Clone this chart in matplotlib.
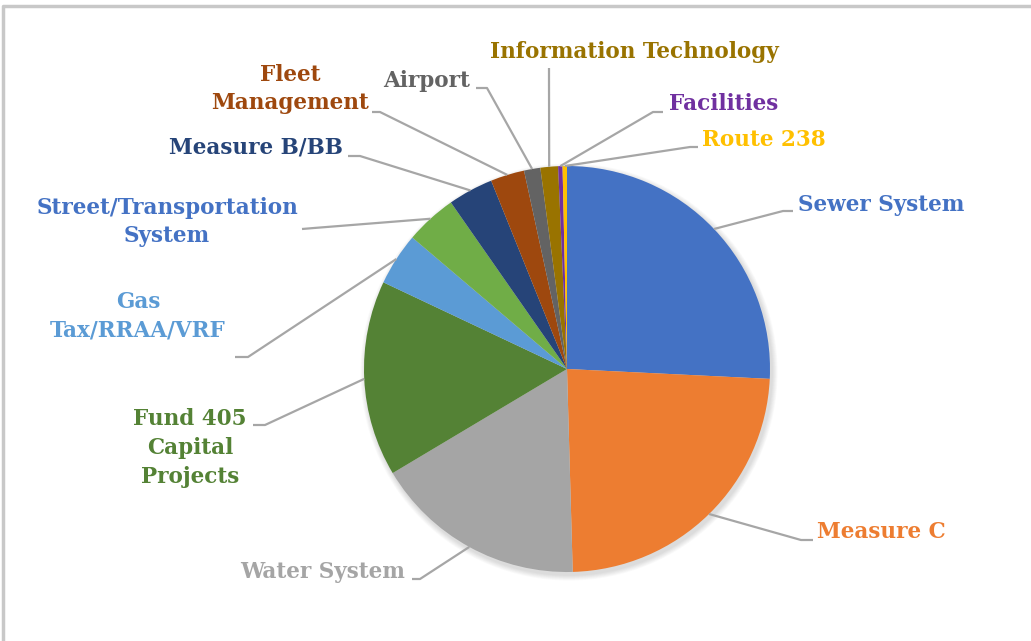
import numpy as np
import matplotlib
matplotlib.use('Agg')
import matplotlib.pyplot as plt
from matplotlib.patches import Circle

# share of the budget (%), clockwise from 12 o'clock
categories = ['Sewer System', 'Measure C', 'Water System', 'Fund 405 Capital Projects',
              'Gas Tax/RRAA/VRF', 'Street/Transportation System', 'Measure B/BB',
              'Fleet Management', 'Airport', 'Information Technology', 'Facilities',
              'Route 238']
values = [25.8, 23.8, 16.9, 15.6, 4.2, 4.1, 3.6, 2.7, 1.3, 1.4, 0.35, 0.35]
label_texts = ['Sewer System', 'Measure C', 'Water System', 'Fund 405\nCapital\nProjects',
               'Gas\nTax/RRAA/VRF', 'Street/Transportation\nSystem', 'Measure B/BB',
               'Fleet\nManagement', 'Airport', 'Information Technology', 'Facilities',
               'Route 238']
colors = ['#4472C4', '#ED7D31', '#A5A5A5', '#548235', '#5B9BD5', '#70AD47',
          '#264478', '#9E480E', '#636363', '#997300', '#7030A0', '#FFC000']
label_colors = ['#4472C4', '#ED7D31', '#A5A5A5', '#548235', '#5B9BD5', '#4472C4',
                '#264478', '#9E480E', '#636363', '#997300', '#7030A0', '#FFC000']

# label layout in pixel coords (y down): elbow, line end, text pos, ha
layout = [
    ((783, 211), (793, 211), (798, 205), 'left'),
    ((801, 540), (813, 540), (817, 532), 'left'),
    ((420, 579), (412, 579), (405, 572), 'right'),
    ((265, 425), (253, 425), (190, 448), 'center'),
    ((248, 357), (235, 357), (138, 316), 'center'),
    ((314, 228), (302, 229), (167, 222), 'center'),
    ((360, 156), (348, 156), (343, 148), 'right'),
    ((380, 112), (372, 112), (290, 89), 'center'),
    ((487, 88), (476, 88), (470, 81), 'right'),
    ((549, 80), (549, 68), (634, 52), 'center'),
    ((653, 112), (663, 112), (669, 104), 'left'),
    ((690, 147), (698, 147), (702, 140), 'left'),
]

W, H = 1031, 641
cx, cy, R = 567, 369, 203

fig = plt.figure(figsize=(W / 100, H / 100), dpi=100)
ax = fig.add_axes([0, 0, 1, 1])

# soft shadow behind the pie
for k in range(1, 8):
    ax.add_patch(Circle((cx + 2, cy + 3), R + k * 0.8, color='black',
                        alpha=0.018, lw=0, zorder=0))

ax.pie(values, colors=colors, startangle=-90, counterclock=True,
       center=(cx, cy), radius=R, wedgeprops=dict(linewidth=0),
       frame=True)

# leader lines + labels
frac = np.array(values) / np.sum(values)
start = -90 + 360 * (np.cumsum(frac) - frac)
mid = np.deg2rad(start + 360 * frac / 2)
for i, txt in enumerate(label_texts):
    (ex, ey), (lx, ly), (tx, ty), ha = layout[i]
    sx = cx + R * np.cos(mid[i])
    sy = cy + R * np.sin(mid[i])
    ax.plot([sx, ex, lx], [sy, ey, ly], color='#A6A6A6', lw=1.6,
            solid_capstyle='butt', zorder=1)
    ax.text(tx, ty, txt, ha=ha, va='center', multialignment='center',
            color=label_colors[i], fontsize=15.5, fontweight='bold',
            family='DejaVu Serif', linespacing=1.4)

# chart frame
ax.plot([3, 3, W + 5], [H + 5, 6, 6], color='#C8C8C8', lw=2.5, zorder=3)

ax.set_xlim(0, W)
ax.set_ylim(H, 0)
ax.set_aspect('equal')
ax.axis('off')

fig.savefig('out.png', dpi=100, facecolor='white')
